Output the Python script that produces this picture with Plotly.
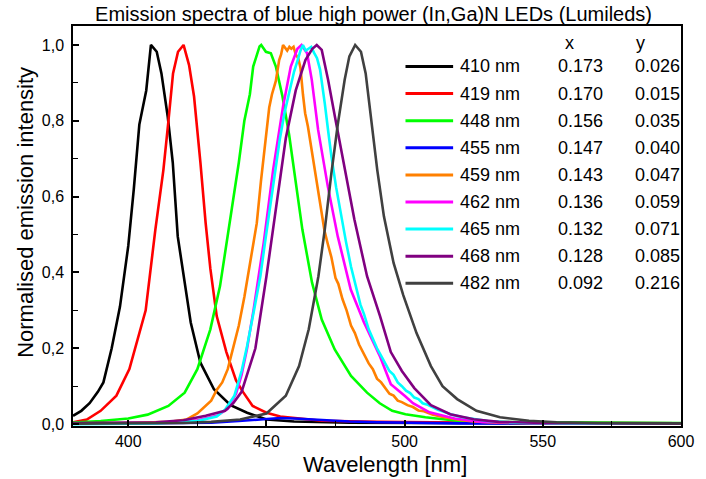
import plotly.graph_objects as go

# ---------------- data ----------------
labels = ["410 nm", "419 nm", "448 nm", "455 nm", "459 nm", "462 nm", "465 nm", "468 nm", "482 nm"]
colors = ["#000000", "#ff0000", "#00ff00", "#0000ff", "#ff8000", "#ff00ff", "#00ffff", "#800080", "#404040"]
cie_x = ["0.173", "0.170", "0.156", "0.147", "0.143", "0.136", "0.132", "0.128", "0.092"]
cie_y = ["0.026", "0.015", "0.035", "0.040", "0.047", "0.059", "0.071", "0.085", "0.216"]

wl_410 = [380, 383, 386, 389, 391, 394, 397, 400, 402, 404, 406.5, 408.2, 410.3, 412, 414.3, 416.1,
          417.9, 420.3, 422.6, 426.1, 431, 437, 443, 450, 460, 480, 500, 550, 600]
in_410 = [0.022, 0.035, 0.055, 0.085, 0.11, 0.2, 0.31, 0.47, 0.62, 0.79, 0.88, 1.0, 0.982, 0.925, 0.81, 0.69,
          0.495, 0.373, 0.268, 0.162, 0.092, 0.05, 0.03, 0.012, 0.007, 0.004, 0.003, 0.002, 0.002]

wl_419 = [380, 385, 390, 395.7, 400.4, 403.3, 406.3, 409.8, 412.7, 414.4, 416.2, 418, 420, 422, 423.8,
          426.1, 428, 429.7, 432, 435.5, 439, 441.5, 445, 450, 455, 470, 490, 520, 560, 600]
in_419 = [0.005, 0.012, 0.035, 0.075, 0.145, 0.22, 0.3, 0.513, 0.67, 0.79, 0.925, 0.982, 1.0, 0.947, 0.864,
          0.69, 0.53, 0.41, 0.285, 0.19, 0.115, 0.085, 0.048, 0.03, 0.02, 0.009, 0.006, 0.004, 0.003, 0.002]

wl_448 = [380, 390, 400, 407, 414.5, 420.4, 425, 429.7, 433.2, 436.2, 437.5, 440, 442, 444, 445.2, 447.5,
          448.1, 449.8, 451.6, 453.4, 455.8, 458.2, 460.6, 463, 466.5, 470, 474.7, 480.6, 486.4, 491,
          495.5, 500.3, 507.5, 519, 530, 560, 600]
in_448 = [0.004, 0.008, 0.015, 0.025, 0.048, 0.083, 0.145, 0.25, 0.364, 0.5, 0.57, 0.69, 0.8, 0.87, 0.943, 0.996,
          1.0, 0.982, 0.978, 0.943, 0.864, 0.763, 0.636, 0.513, 0.373, 0.276, 0.197, 0.127, 0.083, 0.055,
          0.035, 0.026, 0.018, 0.009, 0.006, 0.004, 0.003]

wl_455 = [380, 420, 430, 440, 448, 455, 462, 470, 480, 490, 500, 520, 550, 600]
in_455 = [0.001, 0.002, 0.004, 0.008, 0.013, 0.016, 0.014, 0.01, 0.007, 0.005, 0.004, 0.002, 0.002, 0.001]

wl_459 = [380, 400, 415, 421, 425, 428, 430, 432, 434, 436, 438, 440, 442, 443.5, 445, 446.5, 448, 449, 450,
          451, 452, 453.4, 454.6, 455.3, 456, 456.8, 457.5, 458.3, 459, 459.8, 460.6, 461.5, 462.3, 463.2,
          464, 465, 466.4, 467.5, 468.7, 470, 471, 472.2, 473.5, 475, 476, 477.5, 479, 480.6, 482, 483.5,
          485.3, 487, 488.5, 490, 491.5, 493, 494.5, 496, 497.5, 499, 501, 503, 505, 507, 510, 513, 516,
          520, 525, 530, 540, 560, 600]
in_459 = [0.002, 0.003, 0.006, 0.012, 0.028, 0.048, 0.062, 0.09, 0.11, 0.145, 0.2, 0.26, 0.335, 0.4, 0.46, 0.53,
          0.64, 0.7, 0.765, 0.835, 0.87, 0.905, 0.96, 0.975, 1.0, 0.99, 0.985, 0.995, 0.99, 0.995, 0.975, 0.965,
          0.94, 0.87, 0.82, 0.785, 0.72, 0.66, 0.61, 0.55, 0.51, 0.475, 0.44, 0.385, 0.37, 0.33, 0.3, 0.26,
          0.24, 0.21, 0.185, 0.16, 0.145, 0.12, 0.11, 0.095, 0.08, 0.075, 0.062, 0.058, 0.05, 0.045, 0.036,
          0.034, 0.025, 0.02, 0.016, 0.011, 0.007, 0.005, 0.003, 0.002, 0.001]

wl_462 = [380, 410, 425, 432, 436, 439, 441, 443, 445.3, 449, 452.4, 456, 458.8, 461.2, 462.7, 464.7, 466.4,
          468.7, 472.2, 475.8, 480.5, 485.3, 491, 495, 500, 503, 509, 518, 528, 545, 600]
in_462 = [0.001, 0.003, 0.01, 0.022, 0.04, 0.08, 0.13, 0.2, 0.3, 0.478, 0.67, 0.838, 0.943, 0.99, 1.0, 0.978, 0.908,
          0.776, 0.627, 0.495, 0.355, 0.268, 0.18, 0.105, 0.075, 0.055, 0.031, 0.015, 0.006, 0.003, 0.001]

wl_465 = [380, 410, 425, 432, 435, 438.4, 441, 443, 445.5, 447.8, 449.5, 451.3, 453, 454.8, 456.5, 458.3, 460,
          461.3, 462.3, 463.2, 464.2, 465.2, 466.2, 467.2, 468.3, 469.4, 470.3, 471.1, 472.3, 473.5, 475.2,
          477, 478.8, 480.6, 482.5, 484, 485.3, 487, 488.5, 490, 491.5, 493, 494.5, 496, 497.5, 499, 500.5,
          502, 503.5, 505, 506.5, 508, 510, 512, 514, 517, 521, 525, 530, 540, 560, 600]
in_465 = [0.0, 0.002, 0.008, 0.02, 0.038, 0.075, 0.14, 0.206, 0.3, 0.39, 0.48, 0.574, 0.66, 0.75, 0.82, 0.88, 0.93,
          0.96, 0.985, 1.0, 0.985, 0.99, 0.995, 0.98, 0.965, 0.935, 0.89, 0.846, 0.775, 0.706, 0.625,
          0.548, 0.48, 0.415, 0.36, 0.315, 0.29, 0.25, 0.225, 0.2, 0.18, 0.16, 0.14, 0.13, 0.11, 0.1, 0.088,
          0.082, 0.07, 0.066, 0.055, 0.052, 0.044, 0.038, 0.033, 0.025, 0.018, 0.013, 0.008, 0.004, 0.002, 0.001]

wl_468 = [380, 410, 420, 428, 435, 438, 441, 446, 450, 453.5, 457, 460.6, 464.1, 466.6, 468.2, 470, 472.3,
          474.8, 478.3, 481.8, 486.4, 491.1, 495, 499, 503.5, 509.5, 516.5, 525, 534, 550, 600]
in_468 = [0.003, 0.005, 0.01, 0.022, 0.035, 0.055, 0.085, 0.2, 0.39, 0.566, 0.754, 0.88, 0.96, 0.99, 1.0, 0.987, 0.908,
          0.81, 0.67, 0.54, 0.39, 0.285, 0.19, 0.14, 0.095, 0.05, 0.026, 0.013, 0.006, 0.003, 0.001]

wl_482 = [380, 420, 430, 440.5, 450, 457, 461.8, 465.3, 468.8, 471.1, 473.5, 475.8, 478.3, 480, 482.1, 484.2,
          485.9, 487.7, 490.1, 492.5, 496, 499.5, 504.3, 509.5, 513.7, 519, 526, 534.5, 545, 555, 570, 600]
in_482 = [0.001, 0.003, 0.006, 0.012, 0.028, 0.075, 0.153, 0.25, 0.39, 0.513, 0.662, 0.79, 0.908, 0.97, 1.0, 0.982,
          0.925, 0.82, 0.67, 0.548, 0.425, 0.34, 0.24, 0.153, 0.1, 0.066, 0.035, 0.018, 0.009, 0.005, 0.003, 0.002]

series_wl = [wl_410, wl_419, wl_448, wl_455, wl_459, wl_462, wl_465, wl_468, wl_482]
series_in = [in_410, in_419, in_448, in_455, in_459, in_462, in_465, in_468, in_482]

x_ticks = [400, 450, 500, 550, 600]

# ---------------- figure ----------------
FONT = "Liberation Sans, Arial, sans-serif"
W, H = 706, 479
# plot area in page pixels: x 73..692, y 26..426
ML, MR, MT, MB = 73, 14, 26, 53
PW, PH = W - ML - MR, H - MT - MB


def px_x(p):          # page pixel x -> paper fraction
    return (p - ML) / PW


def px_y(p):          # page pixel y -> paper fraction
    return (H - MB - p) / PH


fig = go.Figure()
for wl, iv, c, lab in zip(series_wl, series_in, colors, labels):
    fig.add_trace(go.Scatter(x=wl, y=iv, mode="lines", name=lab,
                             line=dict(color=c, width=2.6), showlegend=False))

# legend (manual, as in the reference: line, label, CIE x, CIE y)
row0, dy = 66.5, 27.1
for i, (lab, c, cx, cy) in enumerate(zip(labels, colors, cie_x, cie_y)):
    yy = px_y(row0 + dy * i)
    fig.add_shape(type="line", xref="paper", yref="paper",
                  x0=px_x(411.5), x1=px_x(460), y0=yy, y1=yy,
                  line=dict(color=c, width=3))
    fig.add_annotation(x=px_x(465), y=yy, xref="paper", yref="paper", text=lab,
                       showarrow=False, xanchor="left", yanchor="middle",
                       font=dict(family=FONT, size=18, color="black"))
    fig.add_annotation(x=px_x(590), y=yy, xref="paper", yref="paper", text=cx,
                       showarrow=False, xanchor="center", yanchor="middle",
                       font=dict(family=FONT, size=18, color="black"))
    fig.add_annotation(x=px_x(668.5), y=yy, xref="paper", yref="paper", text=cy,
                       showarrow=False, xanchor="center", yanchor="middle",
                       font=dict(family=FONT, size=18, color="black"))

fig.add_annotation(x=px_x(578), y=px_y(43), xref="paper", yref="paper", text="x",
                   showarrow=False, xanchor="center", yanchor="middle",
                   font=dict(family=FONT, size=18, color="black"))
fig.add_annotation(x=px_x(651), y=px_y(43), xref="paper", yref="paper", text="y",
                   showarrow=False, xanchor="center", yanchor="middle",
                   font=dict(family=FONT, size=18, color="black"))

# axis titles
fig.add_annotation(x=px_x(391), y=px_y(465), xref="paper", yref="paper", text="Wavelength [nm]",
                   showarrow=False, xanchor="center", yanchor="middle",
                   font=dict(family=FONT, size=22, color="black"))
fig.add_annotation(x=px_x(24), y=px_y(212), xref="paper", yref="paper",
                   text="Normalised emission intensity", textangle=-90,
                   showarrow=False, xanchor="center", yanchor="middle",
                   font=dict(family=FONT, size=22, color="black"))

fig.update_layout(
    width=W, height=H,
    margin=dict(l=ML, r=MR, t=MT, b=MB, pad=0),
    paper_bgcolor="white", plot_bgcolor="white",
    separators=",.",
    font=dict(family=FONT, size=16, color="black"),
    title=dict(text="Emission spectra of blue high power (In,Ga)N LEDs (Lumileds)",
               x=px_x(379), xref="paper", xanchor="center",
               y=1 - 13.5 / H, yref="container", yanchor="middle",
               font=dict(family=FONT, size=20, color="black")),
    xaxis=dict(range=[380, 600], tickvals=x_ticks, ticks="inside", ticklen=6, tickwidth=1.5,
               tickcolor="black", showline=True, linecolor="black", linewidth=1.5, mirror=True,
               showgrid=False, zeroline=False, tickfont=dict(family=FONT, size=16),
               minor=dict(dtick=25, tick0=375, ticks="inside", ticklen=5, tickwidth=1.2,
                          tickcolor="black", showgrid=False)),
    yaxis=dict(range=[-0.005, 1.05], tick0=0, dtick=0.2, tickformat=".1f", ticks="inside",
               ticklen=6, tickwidth=1.5, tickcolor="black", showline=True, linecolor="black",
               linewidth=1.5, mirror=True, showgrid=False, zeroline=False,
               tickfont=dict(family=FONT, size=16), ticklabelstandoff=4,
               minor=dict(dtick=0.1, tick0=0, ticks="inside", ticklen=5, tickwidth=1.2,
                          tickcolor="black", showgrid=False)),
)

# the page's default 8px body margin would shift the figure; remove it
fig.write_html("out.html", config={"displayModeBar": False},
               post_script="document.body.style.margin='0px';")
